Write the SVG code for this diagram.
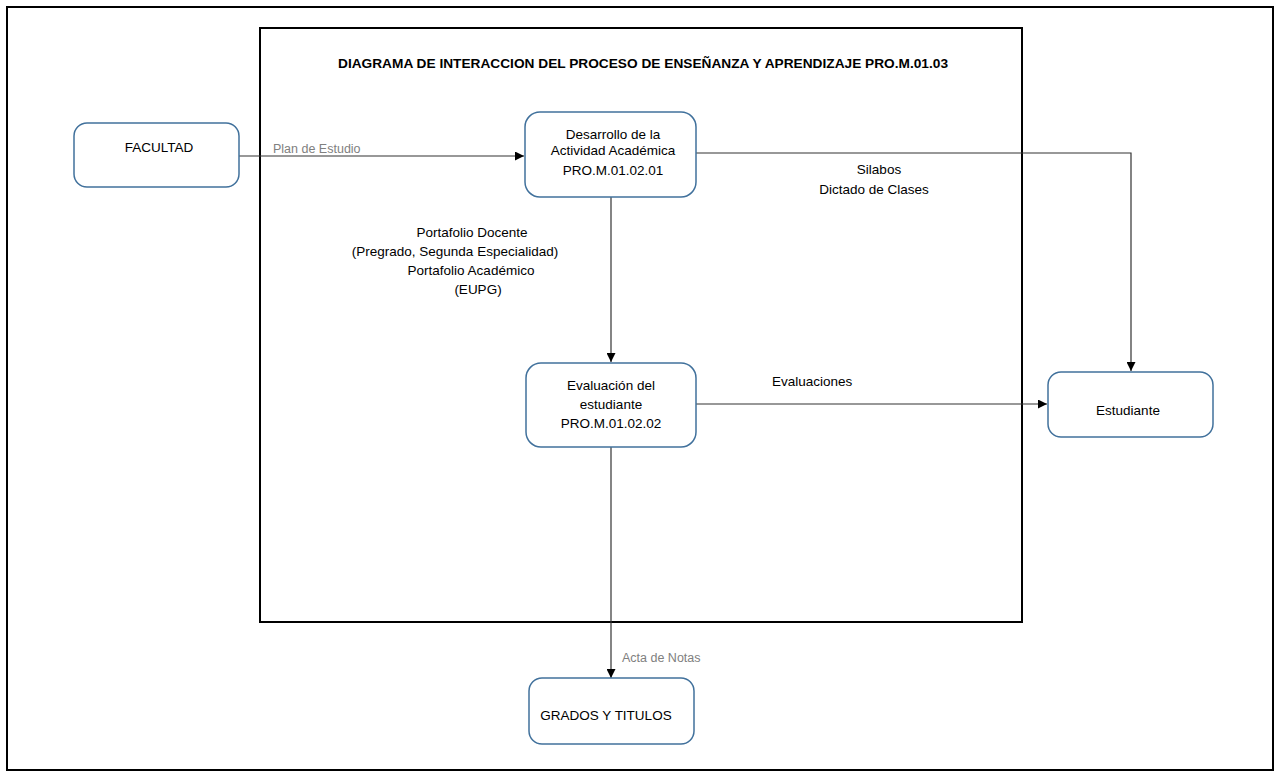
<svg xmlns="http://www.w3.org/2000/svg" width="1274" height="774" viewBox="0 0 1274 774">
<style>
.frame{fill:none;stroke:#000;stroke-width:2}
.node rect{fill:#fff;stroke:#41719c;stroke-width:1.5}
text{font-family:"Liberation Sans",Arial,sans-serif;fill:#000}
.t{font-size:13.5px;text-anchor:middle}
.lbl{font-size:13.5px}
.gray{font-size:12.5px;fill:#808080}
.conn{fill:none;stroke:#333;stroke-width:1.2}
</style>
<defs>
<marker id="arr" viewBox="0 0 10 10" refX="10" refY="5" markerWidth="9" markerHeight="9" markerUnits="userSpaceOnUse" orient="auto">
<path d="M0,0 L10,5 L0,10 Z" fill="#000"/>
</marker>
</defs>
<rect width="1274" height="774" fill="#fff"/>
<rect class="frame" x="7" y="7" width="1266" height="763"/>
<rect class="frame" x="260" y="28" width="762" height="594" stroke-width="2.2"/>
<text x="643" y="68" text-anchor="middle" font-size="13" font-weight="bold" textLength="610" lengthAdjust="spacingAndGlyphs">DIAGRAMA DE INTERACCION DEL  PROCESO DE ENSEÑANZA Y APRENDIZAJE PRO.M.01.03</text>

<g id="connectors">
<path class="conn" d="M239,156 H524" marker-end="url(#arr)"/>
<path class="conn" d="M696,153 H1131 V371" marker-end="url(#arr)"/>
<path class="conn" d="M611,197 V362" marker-end="url(#arr)"/>
<path class="conn" d="M696,404 H1047" marker-end="url(#arr)"/>
<path class="conn" d="M611,447 V678" marker-end="url(#arr)"/>
<text class="gray" x="273" y="153">Plan de Estudio</text>
<text class="t" font-size="14" x="879" y="174">Silabos</text>
<text class="t" font-size="14" x="874" y="194">Dictado de Clases</text>
<text class="t" font-size="14" x="472" y="237">Portafolio Docente</text>
<text class="t" font-size="14" x="455" y="256">(Pregrado, Segunda Especialidad)</text>
<text class="t" font-size="14" x="471" y="275">Portafolio Académico</text>
<text class="t" font-size="14" x="478" y="294">(EUPG)</text>
<text class="lbl" x="772" y="386">Evaluaciones</text>
<text class="gray" font-size="13" x="622" y="662">Acta de Notas</text>
</g>

<g id="facultad" class="node">
<rect x="74" y="123" width="165" height="64" rx="13"/>
<text class="t" font-size="12.5" x="159" y="152">FACULTAD</text>
</g>
<g id="desarrollo" class="node">
<rect x="525" y="112" width="171" height="85" rx="15"/>
<text class="t" font-size="11.5" x="613" y="139">Desarrollo de la</text>
<text class="t" font-size="11.5" x="613" y="155">Actividad  Académica</text>
<text class="t" font-size="14" x="613" y="175">PRO.M.01.02.01</text>
</g>
<g id="evaluacion" class="node">
<rect x="526" y="363" width="170" height="84" rx="15"/>
<text class="t" font-size="14" x="611" y="390">Evaluación del</text>
<text class="t" font-size="14" x="611" y="409">estudiante</text>
<text class="t" font-size="13" x="611" y="428">PRO.M.01.02.02</text>
</g>
<g id="estudiante" class="node">
<rect x="1048" y="372" width="165" height="65" rx="13"/>
<text class="t" font-size="14" x="1128" y="415">Estudiante</text>
</g>
<g id="grados" class="node">
<rect x="529" y="678" width="165" height="66" rx="13"/>
<text class="t" font-size="11.5" x="606" y="720">GRADOS Y TITULOS</text>
</g>
</svg>
